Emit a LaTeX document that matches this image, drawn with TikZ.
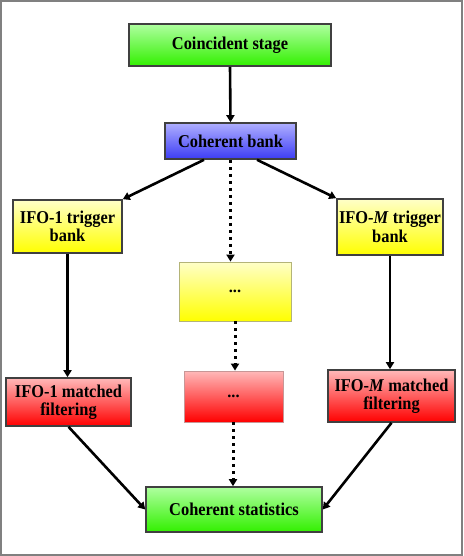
\documentclass[tikz,border=0pt]{standalone}
\usepackage{fontspec}
\setmainfont{Liberation Serif}
\usetikzlibrary{arrows.meta,calc}
\definecolor{gtop}{RGB}{175,255,160}
\definecolor{gbot}{RGB}{50,240,0}
\definecolor{btop}{RGB}{175,175,255}
\definecolor{bbot}{RGB}{60,60,245}
\definecolor{ytop}{RGB}{255,255,200}
\definecolor{ybot}{RGB}{255,255,0}
\definecolor{rtop}{RGB}{255,185,185}
\definecolor{rbot}{RGB}{255,0,0}
\definecolor{edge}{RGB}{64,64,64}
\definecolor{frame}{RGB}{128,128,128}
\definecolor{yedge}{RGB}{180,180,120}
\definecolor{redge}{RGB}{200,150,150}
\tikzset{
  box/.style={draw=edge, line width=1.6pt, inner sep=2pt, align=center,
    font=\fontsize{16.4}{18.5}\selectfont\bfseries},
  gbox/.style={box, top color=gtop, bottom color=gbot},
  bbox/.style={box, top color=btop, bottom color=bbot},
  ybox/.style={box, top color=ytop, bottom color=ybot},
  rbox/.style={box, top color=rtop, bottom color=rbot},
  faint/.style={draw=#1, line width=0.8pt},
  arr/.style={line width=2.6pt, -{Triangle[length=7pt,width=8pt]}},
  darr/.style={line width=3pt, dash pattern=on 3pt off 4pt, -{Triangle[length=7pt,width=8pt]}},
}
\begin{document}
\begin{tikzpicture}[x=1pt,y=-1pt]
\useasboundingbox (0,0) rectangle (463,556);
\draw[frame, line width=2pt] (1,1) rectangle (462,555);
\node[gbox, minimum width=202pt, minimum height=42pt] (cs) at (230,45) {\scalebox{1}[1.1]{Coincident stage}};
\node[bbox, minimum width=131pt, minimum height=36pt] (cb) at (230.5,141) {\scalebox{1}[1.1]{Coherent bank}};
\node[ybox, minimum width=109pt, minimum height=53pt] (t1) at (67.5,226.5) {\scalebox{1}[1.1]{IFO-1 trigger}\\\scalebox{1}[1.1]{bank}};
\node[ybox, minimum width=106pt, minimum height=56pt] (tM) at (390,227) {\scalebox{1}[1.1]{IFO-\textit{M} trigger}\\\scalebox{1}[1.1]{bank}};
\node[ybox, faint=yedge, minimum width=112pt, minimum height=59pt] (td) at (235,291.5) {...};
\node[rbox, minimum width=125pt, minimum height=48pt] (m1) at (68.5,402) {\scalebox{1}[1.1]{IFO-1 matched}\\\scalebox{1}[1.1]{filtering}};
\node[rbox, minimum width=127pt, minimum height=52pt] (mM) at (391.5,396) {\scalebox{1}[1.1]{IFO-\textit{M} matched}\\\scalebox{1}[1.1]{filtering}};
\node[rbox, faint=redge, minimum width=99pt, minimum height=51pt] (md) at (233.5,396.5) {...};
\node[gbox, minimum width=176pt, minimum height=45pt] (st) at (234,509.5) {\scalebox{1}[1.1]{Coherent statistics}};

\draw[arr] (cs.south) -- (cb.north);
\draw[arr] ($(cb.south)+(-26.5,0)$) -- (t1.north east);
\draw[arr] ($(cb.south)+(26.5,0)$) -- (tM.north west);
\draw[darr] (cb.south) -- (cb.south |- td.north);
\draw[arr] (t1.south) -- (t1.south |- m1.north);
\draw[arr] (tM.south) -- (tM.south |- mM.north);
\draw[darr] (td.south) -- (td.south |- md.north);
\draw[darr] ($(md.south)+(-0.5,0)$) -- ($(md.south |- st.north)+(-0.5,0)$);
\draw[arr] (m1.south) -- (st.west);
\draw[arr] (mM.south) -- (st.east);
\end{tikzpicture}
\end{document}
